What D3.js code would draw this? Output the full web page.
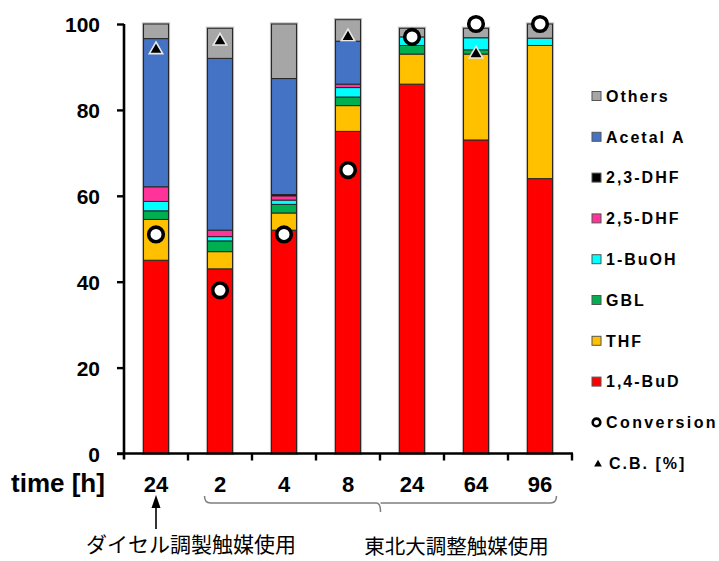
<!DOCTYPE html>
<html><head><meta charset="utf-8">
<script src="https://cdn.jsdelivr.net/npm/d3@7"></script>
<style>
html,body{margin:0;padding:0;background:#fff;}
svg{display:block;}
</style></head>
<body>
<svg id="chart" width="719" height="561"></svg>
<script>
// ---- data ----
const categories = ["D24","T2","T4","T8","T24","T64","T96"];
const timeLabels = ["24","2","4","8","24","64","96"];
const yTicks = [0,20,40,60,80,100];
const seriesNames = ["1,4-BuD","THF","GBL","1-BuOH","2,5-DHF","2,3-DHF","Acetal A","Others"];
const seriesColors = ["#ff0000","#ffc000","#00b050","#00ffff","#ff3399","#000000","#4472c4","#a6a6a6"];
const buD    = [45, 43, 52, 75, 86, 73, 64];
const thf    = [9.5, 4, 4, 6, 7, 20, 31];
const gbl    = [2, 2.5, 2, 2, 2, 1, 0];
const buOH   = [2.2, 1, 1, 2.2, 2, 2.8, 1.7];
const dhf25  = [3.4, 1.5, 1, 0.8, 0, 0, 0];
const dhf23  = [0, 0, 0.3, 0, 0, 0, 0];
const acetal = [34.5, 40, 27, 10, 0, 0, 0];
const others = [3.4, 7, 12.7, 5, 2, 2.2, 3.3];
const conversion = [51, 38, 51, 66, 97, 100, 100];
const cb = [94, 96, null, 97, null, 93, null];
const legendLabels = ["Others","Acetal A","2,3-DHF","2,5-DHF","1-BuOH","GBL","THF","1,4-BuD","Conversion","C.B. [%]"];
const note1 = "ダイセル調製触媒使用";
const note2 = "東北大調整触媒使用";
const axisTitle = "time [h]";

const seriesValues = [buD, thf, gbl, buOH, dhf25, dhf23, acetal, others];

// ---- layout ----
const svg = d3.select("#chart");
const FONT = "'Liberation Sans', Arial, sans-serif";
const x = d3.scaleBand().domain(categories).range([124, 572]).paddingInner(0.61).paddingOuter(0.305);
const y = d3.scaleLinear().domain([0, 100]).range([453.5, 24]);
const bw = x.bandwidth();

// build stack rows
const rows = categories.map((c, i) => {
  const r = {cat: c};
  seriesNames.forEach((s, k) => r[s] = seriesValues[k][i]);
  return r;
});
const stacked = d3.stack().keys(seriesNames)(rows);

// bar halo
const tot = rows.map(r => d3.sum(seriesNames, s => r[s]));
svg.append("g").selectAll("rect").data(categories).join("rect")
  .attr("x", d => x(d)).attr("width", bw)
  .attr("y", (d, i) => y(tot[i])).attr("height", (d, i) => y(0) - y(tot[i]))
  .attr("fill", "none").attr("stroke", "#b8b8b8").attr("stroke-width", 3.2);

// segments
stacked.forEach((layer, k) => {
  svg.append("g").selectAll("rect")
    .data(layer.filter(d => d[1] - d[0] > 0))
    .join("rect")
    .attr("x", d => x(d.data.cat)).attr("width", bw)
    .attr("y", d => y(d[1])).attr("height", d => y(d[0]) - y(d[1]))
    .attr("fill", seriesColors[k])
    .attr("stroke", "#262626").attr("stroke-width", 1);
});

// y axis
const yAxis = svg.append("g").attr("transform", "translate(124,0)")
  .call(d3.axisLeft(y).tickValues(yTicks).tickSize(7).tickSizeOuter(0).tickPadding(17).tickFormat(d3.format("d")));
yAxis.select(".domain").attr("stroke", "#000").attr("stroke-width", 2.6).attr("d", `M0,${y(100)}V${y(0)+6}`);
yAxis.selectAll(".tick line").attr("stroke", "#000").attr("stroke-width", 2.4);
yAxis.selectAll(".tick text").attr("font-family", FONT).attr("font-weight", "bold").attr("font-size", 21).attr("fill", "#000").attr("dy", "0.36em");

// x axis line and ticks at band boundaries
const step = x.step();
const bounds = d3.range(categories.length + 1).map(i => x(categories[0]) - step * x.paddingInner() / 2 + i * step);
svg.append("line").attr("x1", 117).attr("x2", bounds[bounds.length - 1] + 1)
  .attr("y1", y(0)).attr("y2", y(0)).attr("stroke", "#000").attr("stroke-width", 2.6);
svg.append("g").selectAll("line").data(bounds.slice(1)).join("line")
  .attr("x1", d => d).attr("x2", d => d).attr("y1", y(0)).attr("y2", y(0) + 7)
  .attr("stroke", "#000").attr("stroke-width", 2.4);

// x labels
svg.append("g").selectAll("text").data(categories).join("text")
  .attr("x", d => x(d) + bw / 2).attr("y", 492)
  .attr("text-anchor", "middle").attr("font-family", FONT).attr("font-weight", "bold").attr("font-size", 22)
  .text((d, i) => timeLabels[i]);
svg.append("text").attr("x", 11).attr("y", 492).attr("font-family", FONT).attr("font-weight", "bold")
  .attr("font-size", 26).text(axisTitle);

// markers: C.B. triangles
const tri = d3.symbol().type(d3.symbolTriangle).size(78);
svg.append("g").selectAll("path").data(categories.map((c, i) => ({c, v: cb[i]})).filter(d => d.v != null)).join("path")
  .attr("d", tri).attr("transform", d => `translate(${x(d.c) + bw / 2},${y(d.v)})`)
  .attr("fill", "#000").attr("stroke", "#e8e8e8").attr("stroke-width", 1.6);

// conversion circles
svg.append("g").selectAll("circle").data(categories.map((c, i) => ({c, v: conversion[i]}))).join("circle")
  .attr("cx", d => x(d.c) + bw / 2).attr("cy", d => y(d.v)).attr("r", 7.3)
  .attr("fill", "#fff").attr("stroke", "#000").attr("stroke-width", 3.6);

// legend
const legendOrder = [7, 6, 5, 4, 3, 2, 1, 0];
const lg = svg.append("g");
const ly = i => 96 + i * 40.8;
legendLabels.forEach((lab, i) => {
  const g = lg.append("g").attr("transform", `translate(0,${ly(i)})`);
  if (i < 8) {
    g.append("rect").attr("x", 592).attr("y", -4.5).attr("width", 9).attr("height", 9)
      .attr("fill", seriesColors[legendOrder[i]]).attr("stroke", "#555").attr("stroke-width", 1);
  } else if (i === 8) {
    g.append("circle").attr("cx", 596.5).attr("cy", 0).attr("r", 3.8).attr("fill", "#fff").attr("stroke", "#000").attr("stroke-width", 2.6);
  } else {
    g.append("path").attr("d", d3.symbol().type(d3.symbolTriangle).size(26)).attr("transform", "translate(598,1)").attr("fill", "#000");
  }
  g.append("text").attr("x", i === 9 ? 609 : 606).attr("y", 0).attr("dy", "0.36em")
    .attr("font-family", FONT).attr("font-weight", "bold").attr("font-size", 16)
    .attr("letter-spacing", i === 8 ? 2.4 : 2).text(lab);
});

// arrow under the first bar
const ax = x(categories[0]) + bw / 2;
svg.append("line").attr("x1", ax).attr("x2", ax).attr("y1", 506).attr("y2", 529).attr("stroke", "#000").attr("stroke-width", 1.6);
svg.append("path").attr("d", `M${ax},495L${ax - 4.5},508L${ax + 4.5},508Z`).attr("fill", "#000");

// bracket
const bl = x(categories[1]) - 3, br = x(categories[6]) + bw + 4, bm = (bl + br) / 2;
const p = d3.path();
p.moveTo(bl, 496); p.quadraticCurveTo(bl, 503, bl + 6, 503);
p.lineTo(bm - 4, 503); p.quadraticCurveTo(bm, 503, bm, 512);
p.moveTo(bm, 503); p.lineTo(br - 6, 503); p.quadraticCurveTo(br, 503, br, 496);
svg.append("path").attr("d", p.toString()).attr("fill", "none").attr("stroke", "#7f7f7f").attr("stroke-width", 1.5);

// notes
const CJK = "'Noto Sans CJK JP', 'Noto Sans CJK SC', sans-serif";
svg.append("text").attr("x", ax + 35).attr("y", 552).attr("text-anchor", "middle")
  .attr("font-family", CJK).attr("font-size", 21).text(note1);
svg.append("text").attr("x", bm + 76).attr("y", 554).attr("text-anchor", "middle")
  .attr("font-family", CJK).attr("font-size", 20.5).text(note2);
</script>
</body></html>
